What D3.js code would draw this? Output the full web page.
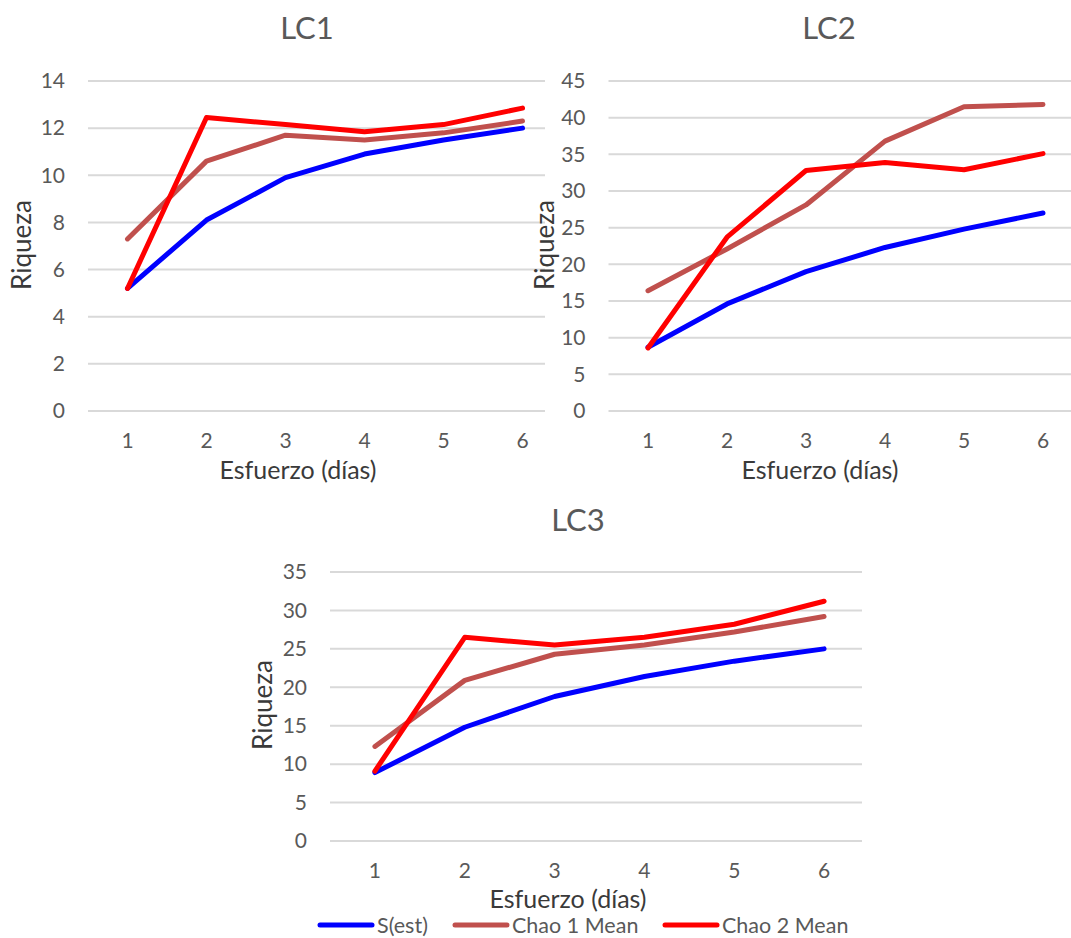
<!DOCTYPE html>
<html>
<head>
<meta charset="utf-8">
<script src="https://cdn.jsdelivr.net/npm/d3@7"></script>
<style>
  html, body { margin: 0; padding: 0; background: #fff; }
  svg { display: block; font-family: Lato, "Open Sans", sans-serif; }
</style>
</head>
<body>
<svg id="chart" width="1071" height="938"></svg>
<script>
// Sampling effort (days)
const days = [1, 2, 3, 4, 5, 6];

// Richness estimates per site
const lc1Sest  = [5.2, 8.1, 9.9, 10.9, 11.5, 12.0];
const lc1Chao1 = [7.3, 10.6, 11.7, 11.5, 11.8, 12.3];
const lc1Chao2 = [5.2, 12.45, 12.15, 11.85, 12.15, 12.85];

const lc2Sest  = [8.7, 14.6, 19.0, 22.3, 24.8, 27.0];
const lc2Chao1 = [16.4, 22.1, 28.1, 36.8, 41.5, 41.8];
const lc2Chao2 = [8.6, 23.7, 32.8, 33.9, 32.9, 35.1];

const lc3Sest  = [8.9, 14.8, 18.8, 21.4, 23.4, 25.0];
const lc3Chao1 = [12.3, 20.9, 24.3, 25.5, 27.2, 29.2];
const lc3Chao2 = [9.1, 26.5, 25.5, 26.5, 28.2, 31.2];

// Y tick values per panel
const lc1Ticks = [0, 2, 4, 6, 8, 10, 12, 14];
const lc2Ticks = [0, 5, 10, 15, 20, 25, 30, 35, 40, 45];
const lc3Ticks = [0, 5, 10, 15, 20, 25, 30, 35];

const seriesNames  = ["S(est)", "Chao 1 Mean", "Chao 2 Mean"];
const seriesColors = ["#0000FF", "#C0504D", "#FF0000"];

const xTitle = "Esfuerzo (días)";
const yTitle = "Riqueza";

const svg = d3.select("#chart");

function drawPanel(g, opt) {
  const { title, series, ticks, left, right, top, bottom, clipRight } = opt;

  // white backing so a later panel sits on top of an earlier one
  g.append("rect")
    .attr("x", opt.bgX).attr("y", opt.bgY)
    .attr("width", opt.bgW).attr("height", opt.bgH)
    .attr("fill", "#fff");

  const x = d3.scaleBand().domain(days).range([left, right]);
  const y = d3.scaleLinear().domain([0, d3.max(ticks)]).range([bottom, top]);

  // gridlines
  g.append("g")
    .selectAll("line")
    .data(ticks)
    .join("line")
    .attr("x1", left).attr("x2", Math.min(right, clipRight))
    .attr("y1", d => y(d)).attr("y2", d => y(d))
    .attr("stroke", "#d9d9d9").attr("stroke-width", 2);

  // y axis labels
  const yAxis = d3.axisLeft(y).tickValues(ticks).tickSize(0).tickPadding(opt.yPad);
  const ya = g.append("g").attr("transform", `translate(${left},0)`).call(yAxis);
  ya.select(".domain").remove();
  ya.selectAll("text")
    .attr("font-family", "Lato, sans-serif")
    .attr("font-size", 21).attr("fill", "#595959");

  // x axis labels
  const xAxis = d3.axisBottom(x).tickSize(0).tickPadding(opt.xPad);
  const xa = g.append("g").attr("transform", `translate(0,${bottom})`).call(xAxis);
  xa.select(".domain").remove();
  xa.selectAll("text")
    .attr("font-family", "Lato, sans-serif")
    .attr("font-size", 21).attr("fill", "#595959");

  // series lines
  const line = d3.line()
    .x((d, i) => x(days[i]) + x.bandwidth() / 2)
    .y(d => y(d));
  series.forEach((vals, k) => {
    g.append("path")
      .datum(vals)
      .attr("d", line)
      .attr("fill", "none")
      .attr("stroke", seriesColors[k])
      .attr("stroke-width", 5)
      .attr("stroke-linejoin", "round")
      .attr("stroke-linecap", "round");
  });

  // titles
  g.append("text")
    .attr("x", opt.titleX).attr("y", opt.titleY)
    .attr("text-anchor", "middle")
    .attr("font-size", 31).attr("fill", "#595959")
    .text(title);

  g.append("text")
    .attr("x", opt.xTitleX).attr("y", opt.xTitleY)
    .attr("text-anchor", "middle")
    .attr("font-size", 25).attr("fill", "#3a3a3a")
    .text(xTitle);

  g.append("text")
    .attr("transform", `translate(${opt.yTitleX},${opt.yTitleY}) rotate(-90)`)
    .attr("text-anchor", "middle")
    .attr("font-size", 26).attr("fill", "#3a3a3a")
    .text(yTitle);
}

drawPanel(svg.append("g"), {
  title: "LC1", series: [lc1Sest, lc1Chao1, lc1Chao2], ticks: lc1Ticks,
  left: 88, right: 562, top: 81, bottom: 411, clipRight: 562,
  bgX: 0, bgY: 0, bgW: 545, bgH: 490,
  yPad: 23, xPad: 22,
  titleX: 307, titleY: 39, xTitleX: 298, xTitleY: 479,
  yTitleX: 31, yTitleY: 245
});

drawPanel(svg.append("g"), {
  title: "LC2", series: [lc2Sest, lc2Chao1, lc2Chao2], ticks: lc2Ticks,
  left: 608.5, right: 1082.5, top: 81, bottom: 411, clipRight: 1071,
  bgX: 545, bgY: 0, bgW: 526, bgH: 490,
  yPad: 23, xPad: 22,
  titleX: 829, titleY: 39, xTitleX: 820, xTitleY: 479,
  yTitleX: 554, yTitleY: 245
});

drawPanel(svg.append("g"), {
  title: "LC3", series: [lc3Sest, lc3Chao1, lc3Chao2], ticks: lc3Ticks,
  left: 330, right: 869, top: 572, bottom: 841, clipRight: 862,
  bgX: 240, bgY: 490, bgW: 640, bgH: 448,
  yPad: 23, xPad: 22,
  titleX: 578, titleY: 531, xTitleX: 568, xTitleY: 908,
  yTitleX: 272, yTitleY: 705
});

// legend
const legend = svg.append("g");
const legendX = [320, 455, 665];
seriesNames.forEach((name, k) => {
  legend.append("line")
    .attr("x1", legendX[k]).attr("x2", legendX[k] + 52)
    .attr("y1", 925).attr("y2", 925)
    .attr("stroke", seriesColors[k]).attr("stroke-width", 5)
    .attr("stroke-linecap", "round");
  legend.append("text")
    .attr("x", legendX[k] + 57).attr("y", 933)
    .attr("font-size", 21.5).attr("fill", "#595959")
    .text(name);
});
</script>
</body>
</html>
